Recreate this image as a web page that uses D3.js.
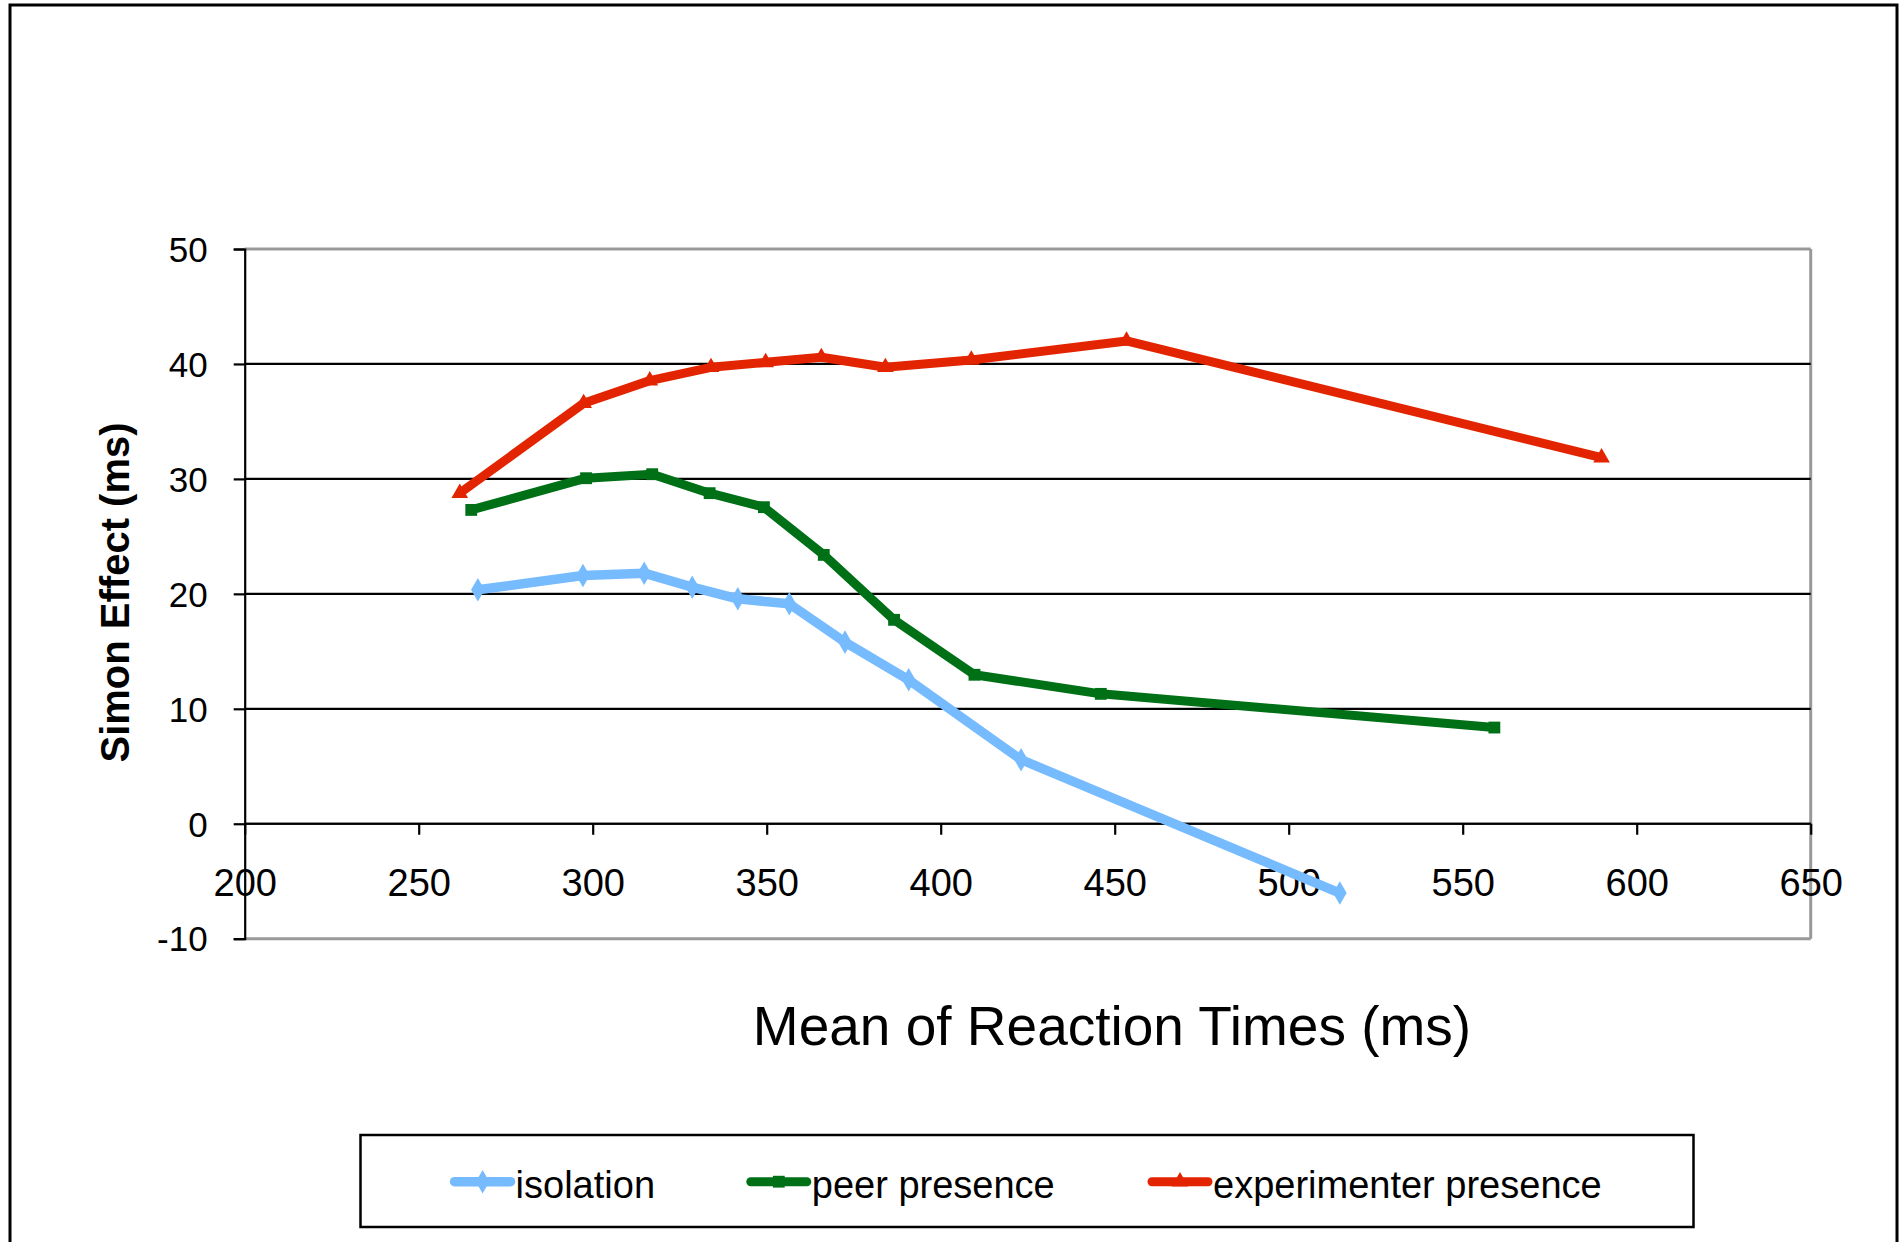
<!DOCTYPE html>
<html>
<head>
<meta charset="utf-8">
<script src="https://cdn.jsdelivr.net/npm/d3@7"></script>
<style>
  html, body { margin: 0; padding: 0; background: #fff; }
  svg { display: block; font-family: "Liberation Sans", Arial, sans-serif; }
</style>
</head>
<body>
<svg id="chart" width="1901" height="1242"></svg>
<script>
// ---- data ----
const seriesNames = ["isolation", "peer presence", "experimenter presence"];
const isolationX = [267.0, 297.2, 314.8, 328.6, 341.7, 356.5, 372.5, 390.8, 423.1, 514.7];
const isolationY = [20.35, 21.59, 21.80, 20.58, 19.57, 19.13, 15.80, 12.52, 5.57, -6.03];
const peerX = [265.1, 298.1, 317.1, 333.6, 349.2, 366.4, 386.6, 409.7, 446.0, 559.1];
const peerY = [27.3, 30.06, 30.41, 28.76, 27.54, 23.39, 17.74, 12.96, 11.30, 8.37];
const experimenterX = [261.8, 297.4, 316.4, 334.0, 349.7, 365.7, 384.1, 408.8, 453.4, 589.9];
const experimenterY = [28.76, 36.58, 38.55, 39.71, 40.14, 40.58, 39.71, 40.35, 42.0, 31.85];
const xTicks = [200, 250, 300, 350, 400, 450, 500, 550, 600, 650];
const yTicks = [-10, 0, 10, 20, 30, 40, 50];
const xTitle = "Mean of Reaction Times (ms)";
const yTitle = "Simon Effect (ms)";

// ---- layout ----
const svg = d3.select("#chart");
const pL = 244.7, pR = 1810.7, pT = 249, pB = 938.7;
const x = d3.scaleLinear().domain([200, 650]).range([pL, pR]);
const y = d3.scaleLinear().domain([-10, 50]).range([pB, pT]);

const series = [
  { name: seriesNames[0], xs: isolationX, ys: isolationY, color: "#77BBFF", width: 9.5, marker: d3.symbolDiamond, msize: 160 },
  { name: seriesNames[1], xs: peerX, ys: peerY, color: "#007016", width: 9, marker: d3.symbolSquare, msize: 140 },
  { name: seriesNames[2], xs: experimenterX, ys: experimenterY, color: "#E32400", width: 9, marker: d3.symbolTriangle, msize: 120 }
];

// outer border
svg.append("rect").attr("x", 10).attr("y", 5).attr("width", 1887).attr("height", 1260)
  .attr("fill", "#fff").attr("stroke", "#000").attr("stroke-width", 3);

// plot frame (gray)
const g = svg.append("g");
g.append("line").attr("x1", pL).attr("x2", pR).attr("y1", pT).attr("y2", pT)
  .attr("stroke", "#999").attr("stroke-width", 3);
g.append("line").attr("x1", pR).attr("x2", pR).attr("y1", pT).attr("y2", pB)
  .attr("stroke", "#999").attr("stroke-width", 3);
g.append("line").attr("x1", pL).attr("x2", pR).attr("y1", pB).attr("y2", pB)
  .attr("stroke", "#999").attr("stroke-width", 3);

// gridlines
g.selectAll("line.grid").data(yTicks.filter(v => v > -10 && v < 50)).enter().append("line")
  .attr("class", "grid")
  .attr("x1", pL).attr("x2", pR)
  .attr("y1", d => y(d)).attr("y2", d => y(d))
  .attr("stroke", "#000").attr("stroke-width", 2.2);

// y axis
const yAxis = svg.append("g").attr("transform", `translate(${pL},0)`)
  .call(d3.axisLeft(y).tickValues(yTicks).tickSize(11).tickPadding(26).tickFormat(d => String(d)));
yAxis.select(".domain").attr("stroke", "#000").attr("stroke-width", 2.2);
yAxis.selectAll(".tick line").attr("stroke", "#000").attr("stroke-width", 2.2);
yAxis.selectAll(".tick text").attr("font-size", 35).attr("fill", "#000")
  .attr("font-family", "Liberation Sans, Arial, sans-serif").attr("dy", "0.35em");

// x axis at y=0
const xAxis = svg.append("g").attr("transform", `translate(0,${y(0)})`)
  .call(d3.axisBottom(x).tickValues(xTicks).tickSize(11).tickPadding(34).tickFormat(d => String(d)));
xAxis.select(".domain").attr("stroke", "#000").attr("stroke-width", 2.2).attr("d", `M${pL},0H${pR}`);
xAxis.selectAll(".tick line").attr("stroke", "#000").attr("stroke-width", 2.2);
xAxis.selectAll(".tick text").attr("font-size", 38).attr("fill", "#000")
  .attr("font-family", "Liberation Sans, Arial, sans-serif");

// series
const line = d3.line().x(d => x(d[0])).y(d => y(d[1]));
series.forEach(s => {
  const pts = s.xs.map((v, i) => [v, s.ys[i]]);
  svg.append("path").datum(pts).attr("d", line)
    .attr("fill", "none").attr("stroke", s.color).attr("stroke-width", s.width)
    .attr("stroke-linejoin", "round");
  svg.selectAll(null).data(pts).enter().append("path")
    .attr("d", d3.symbol().type(s.marker).size(s.msize))
    .attr("transform", d => `translate(${x(d[0])},${y(d[1])})`)
    .attr("fill", s.color);
});

// axis titles
svg.append("text").attr("x", 1112).attr("y", 1045).attr("text-anchor", "middle")
  .attr("font-size", 55).attr("fill", "#000").text(xTitle);
svg.append("text").attr("transform", "translate(129,592.5) rotate(-90)").attr("text-anchor", "middle")
  .attr("font-size", 40).attr("font-weight", "bold").attr("fill", "#000").text(yTitle);

// legend
svg.append("rect").attr("x", 360.5).attr("y", 1135).attr("width", 1333).attr("height", 92)
  .attr("fill", "#fff").attr("stroke", "#000").attr("stroke-width", 2.5);
const legendPos = [451.6, 747.8, 1149];
series.forEach((s, i) => {
  const lx = legendPos[i], ly = 1181.7;
  svg.append("line").attr("x1", lx + 3).attr("x2", lx + 59).attr("y1", ly).attr("y2", ly)
    .attr("stroke", s.color).attr("stroke-width", s.width).attr("stroke-linecap", "round");
  svg.append("path").attr("d", d3.symbol().type(s.marker).size(s.msize))
    .attr("transform", `translate(${lx + 31},${ly})`).attr("fill", s.color);
  svg.append("text").attr("x", lx + 64).attr("y", 1198).attr("font-size", 38)
    .attr("fill", "#000").text(s.name);
});
</script>
</body>
</html>
